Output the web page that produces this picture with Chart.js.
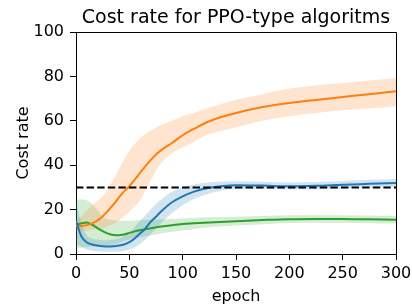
<!DOCTYPE html>
<html>
<head>
<meta charset="utf-8">
<script src="https://cdn.jsdelivr.net/npm/chart.js@4.4.0/dist/chart.umd.min.js"></script>
<style>
  html, body { margin: 0; padding: 0; background: #fff; }
  #wrap { width: 412px; height: 306px; position: relative; }
</style>
</head>
<body>
<div id="wrap"><canvas id="costChart"></canvas></div>
<script>
let epochs = [0, 5, 10, 15, 20, 25, 30, 35, 40, 45, 50, 55, 60, 65, 70, 75, 80, 90, 100, 110, 125, 150, 175, 200, 225, 250, 275, 300];

let orangeMean  = [12.5, 12.6, 13, 13.8, 15, 17, 19.5, 22.2, 25.3, 28.2, 30.5, 33.5, 36.5, 39.5, 42.3, 44.8, 46.8, 50, 53.5, 56.2, 59.8, 63.5, 66.2, 68, 69.4, 70.7, 72, 73.3];
let orangeUpper = [15, 17, 19.5, 22, 24, 26, 29.5, 33.5, 38, 42.5, 46.5, 49.5, 52, 54, 55.5, 57, 58.2, 60, 62, 63.5, 66, 69.5, 72, 74.5, 76, 77, 78.2, 79.3];
let orangeLower = [10.5, 10.5, 10.5, 11, 11.2, 11.5, 12.5, 13.5, 15, 17, 19, 21.5, 24, 28.5, 33, 37.5, 41, 45.5, 48, 50.5, 54, 57, 60, 62, 63.5, 64.8, 65.5, 66.5];

let blueMean  = [15, 8, 5.3, 4.3, 3.8, 3.5, 3.4, 3.5, 3.8, 4.3, 5.3, 7, 9.2, 11.5, 14.5, 16.8, 19.3, 23.3, 26, 28, 29.8, 31, 30.8, 30.5, 30.7, 31.2, 31.6, 32];
let blueUpper = [24, 14, 8.5, 7, 6.5, 6.2, 6.2, 6.4, 7, 8, 9.5, 12, 15, 17.5, 20, 22.5, 24.5, 28, 30, 31.3, 32.3, 32.8, 32.5, 32.2, 32.4, 32.9, 33.4, 33.8];
let blueLower = [5, 3, 2, 1.5, 1.2, 1, 1, 1, 1, 1.3, 2, 3, 4.5, 6.5, 9, 11.5, 14, 18.5, 22, 24.7, 27.3, 29.3, 29.3, 29, 29.1, 29.5, 29.9, 30.3];

let greenMean  = [13, 13.8, 14.2, 13.2, 11.7, 10.3, 9.2, 8.6, 8.5, 8.8, 9.5, 10.2, 10.7, 11.1, 11.6, 12, 12.4, 13, 13.5, 13.8, 14.2, 14.8, 15.3, 15.7, 15.8, 15.8, 15.6, 15.4];
let greenUpper = [24.5, 24.5, 24.2, 22.5, 19.8, 17, 15.6, 15.2, 15, 15, 15, 15.1, 15.2, 15.3, 15.4, 15.5, 15.6, 15.8, 16, 16.2, 16.5, 16.8, 17.1, 17.4, 17.5, 17.5, 17.3, 17.1];
let greenLower = [2.5, 3, 3.2, 3.4, 3.5, 3.6, 3.8, 4.3, 5, 5.8, 6.5, 7, 7.5, 8, 8.4, 8.8, 9.2, 10, 10.6, 11.2, 12, 12.8, 13.4, 14, 14.1, 14.1, 13.9, 13.7];

let limitEpochs = [0, 300];
let limitValue = [30, 30];

let titleText = 'Cost rate for PPO-type algoritms';

function pts(xs, ys) {
  return xs.map((x, i) => ({ x: x, y: ys[i] }));
}

function lineSet(values, color) {
  return {
    data: pts(epochs, values),
    borderColor: color,
    borderWidth: 2,
    pointRadius: 0,
    fill: false,
    cubicInterpolationMode: 'monotone',
    order: 0
  };
}

function bandSets(lower, upper, fillColor) {
  return [
    { data: pts(epochs, lower), borderWidth: 0, borderColor: 'rgba(0,0,0,0)', pointRadius: 0, fill: false, cubicInterpolationMode: 'monotone', order: 2 },
    { data: pts(epochs, upper), borderWidth: 0, borderColor: 'rgba(0,0,0,0)', pointRadius: 0, fill: '-1', backgroundColor: fillColor, cubicInterpolationMode: 'monotone', order: 2 }
  ];
}

// top/right spines and a title centred over the axes, like matplotlib
let frame = {
  id: 'frame',
  afterDraw(chart) {
    let a = chart.chartArea, c = chart.ctx;
    c.save();
    c.strokeStyle = '#000';
    c.lineWidth = 1;
    c.beginPath();
    c.moveTo(a.left, a.top + 0.5);
    c.lineTo(a.right + 0.5, a.top + 0.5);
    c.lineTo(a.right + 0.5, a.bottom);
    c.stroke();
    c.fillStyle = '#000';
    c.font = '19px "DejaVu Sans"';
    c.textAlign = 'center';
    c.textBaseline = 'alphabetic';
    c.fillText(titleText, (a.left + a.right) / 2, 23);
    c.restore();
  }
};

let font = { family: 'DejaVu Sans', size: 16 };

let ctx = document.getElementById('costChart').getContext('2d');

let chart = new Chart(ctx, {
  type: 'line',
  data: {
    datasets: [
      { data: pts(limitEpochs, limitValue), borderColor: '#000', borderWidth: 2, borderDash: [7.4, 3.2], pointRadius: 0, fill: false, order: -1 },
      lineSet(blueMean, '#1f77b4'),
      lineSet(orangeMean, '#ff7f0e'),
      lineSet(greenMean, '#2ca02c'),
      ...bandSets(blueLower, blueUpper, 'rgba(31,119,180,0.2)'),
      ...bandSets(orangeLower, orangeUpper, 'rgba(255,127,14,0.2)'),
      ...bandSets(greenLower, greenUpper, 'rgba(44,160,44,0.2)')
    ]
  },
  options: {
    responsive: true,
    maintainAspectRatio: false,
    animation: false,
    layout: { padding: { left: 0, right: 16, top: 32, bottom: 0 } },
    plugins: {
      legend: { display: false },
      tooltip: { enabled: false },
      title: { display: false }
    },
    scales: {
      x: {
        type: 'linear',
        min: 0,
        max: 300,
        ticks: { stepSize: 50, color: '#000', font: font, padding: 4, maxRotation: 0 },
        grid: { drawOnChartArea: false, drawTicks: true, tickLength: 6, color: '#000' },
        border: { display: true, color: '#000', width: 1 },
        title: { display: true, text: 'epoch', color: '#000', font: font, padding: { top: 0, bottom: 0 } },
        afterFit(scale) { scale.height = 52; scale.paddingLeft = 0; scale.paddingRight = 0; }
      },
      y: {
        min: 0,
        max: 100,
        ticks: { stepSize: 20, color: '#000', font: font, padding: 6 },
        grid: { drawOnChartArea: false, drawTicks: true, tickLength: 6, color: '#000' },
        border: { display: true, color: '#000', width: 1 },
        title: { display: true, text: 'Cost rate', color: '#000', font: font, padding: { top: 14, bottom: 0 } },
        afterFit(scale) { scale.width = 76; scale.paddingTop = 0; scale.paddingBottom = 0; }
      }
    }
  },
  plugins: [frame]
});
</script>
</body>
</html>
